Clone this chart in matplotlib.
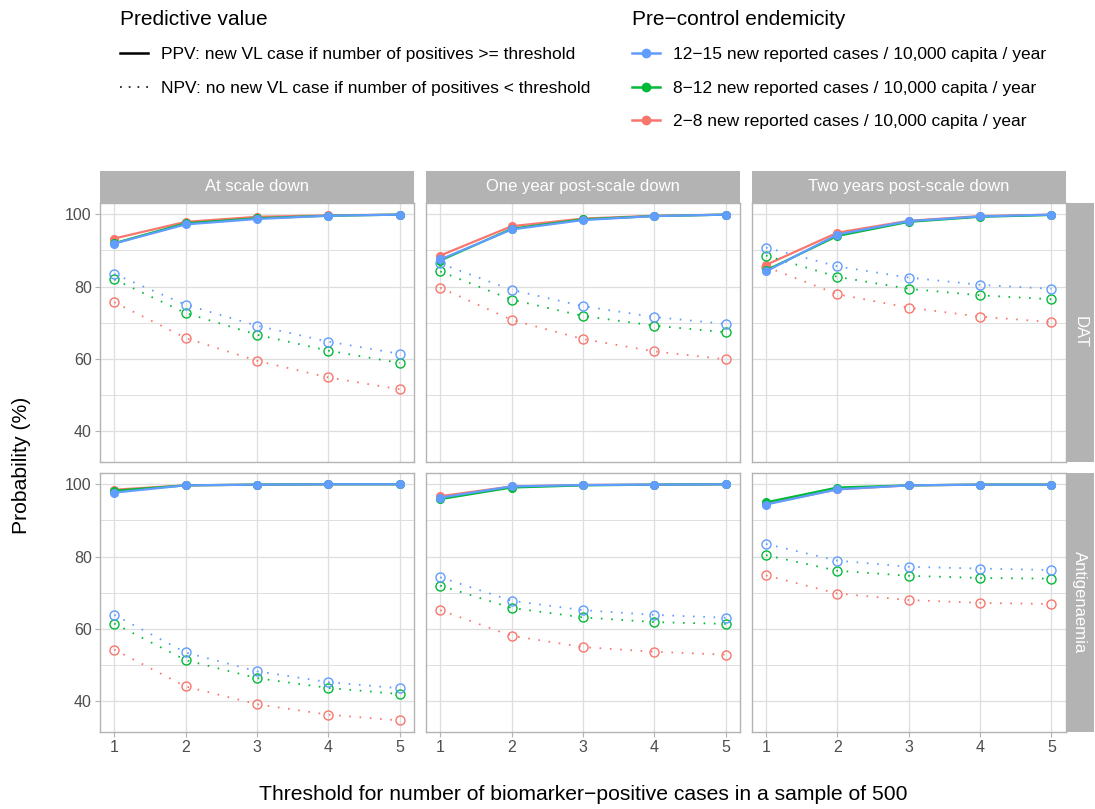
"""Predictive value of biomarker thresholds, faceted by timepoint and biomarker."""
import matplotlib

matplotlib.use("Agg")
import matplotlib.pyplot as plt
from matplotlib.lines import Line2D

plt.rcParams["font.family"] = ["Liberation Sans", "DejaVu Sans"]

# %% Data
thresholds = [1, 2, 3, 4, 5]
timepoints = ["At scale down", "One year post-scale down", "Two years post-scale down"]
biomarkers = ["DAT", "Antigenaemia"]
endemicity = [
    "2\u22128 new reported cases / 10,000 capita / year",
    "8\u221212 new reported cases / 10,000 capita / year",
    "12\u221215 new reported cases / 10,000 capita / year",
]

# one list per timepoint, values in %
ppv_dat_low = [[93.3, 97.9, 99.3, 99.7, 99.9], [88.6, 96.7, 98.8, 99.6, 99.9], [86.0, 94.9, 98.2, 99.5, 99.9]]
ppv_dat_mid = [[92.0, 97.5, 98.9, 99.6, 99.9], [87.2, 96.0, 98.6, 99.5, 99.9], [84.5, 94.0, 97.9, 99.3, 99.8]]
ppv_dat_high = [[91.9, 97.2, 98.7, 99.6, 99.9], [87.5, 95.8, 98.4, 99.5, 99.9], [84.2, 94.4, 98.1, 99.4, 99.9]]
npv_dat_low = [[75.7, 65.8, 59.5, 54.9, 51.6], [79.7, 70.8, 65.5, 62.1, 59.9], [85.5, 77.9, 74.2, 71.7, 70.2]]
npv_dat_mid = [[82.0, 72.7, 66.7, 62.3, 58.9], [84.2, 76.4, 71.9, 69.2, 67.4], [88.6, 82.7, 79.4, 77.6, 76.5]]
npv_dat_high = [[83.5, 75.0, 69.2, 64.8, 61.4], [86.4, 79.1, 74.6, 71.6, 69.7], [90.8, 85.6, 82.5, 80.5, 79.4]]

ppv_ag_low = [[98.5, 99.7, 99.9, 100.0, 100.0], [96.7, 99.4, 99.8, 99.9, 100.0], [94.6, 98.6, 99.7, 99.9, 99.9]]
ppv_ag_mid = [[98.2, 99.7, 99.9, 100.0, 100.0], [95.9, 99.1, 99.7, 99.9, 100.0], [95.0, 99.1, 99.7, 99.9, 99.9]]
ppv_ag_high = [[97.7, 99.7, 99.9, 100.0, 100.0], [96.3, 99.4, 99.8, 99.9, 100.0], [94.4, 98.6, 99.7, 99.9, 99.9]]
npv_ag_low = [[54.3, 44.1, 39.2, 36.3, 34.7], [65.2, 58.1, 55.0, 53.7, 52.9], [74.8, 69.8, 68.0, 67.2, 66.9]]
npv_ag_mid = [[61.5, 51.4, 46.4, 43.7, 42.0], [72.0, 65.8, 63.2, 61.9, 61.4], [80.4, 76.1, 74.7, 74.1, 73.9]]
npv_ag_high = [[63.9, 53.5, 48.3, 45.3, 43.6], [74.3, 67.8, 65.2, 63.9, 63.1], [83.5, 78.9, 77.2, 76.7, 76.3]]

ppv = {"DAT": [ppv_dat_low, ppv_dat_mid, ppv_dat_high],
       "Antigenaemia": [ppv_ag_low, ppv_ag_mid, ppv_ag_high]}
npv = {"DAT": [npv_dat_low, npv_dat_mid, npv_dat_high],
       "Antigenaemia": [npv_ag_low, npv_ag_mid, npv_ag_high]}

colours = ["#F8766D", "#00BA38", "#619CFF"]

# %% Layout (pixel positions -> figure fractions)
W, H = 1095, 809
fig = plt.figure(figsize=(W / 100, H / 100), dpi=100)

col_left = [100, 426, 751.7]
panel_w = 314
row_top = [202.7, 472.7]
panel_h = 259
strip_h = 32
strip_w = 28

grid_col = "#DEDEDE"
frame_col = "#B3B3B3"
text_col = "#4D4D4D"
dot = (0, (0.9, 4.8))


def strip(rect, label, rotation=0):
    sax = fig.add_axes(rect)
    sax.set_facecolor(frame_col)
    sax.set_xticks([])
    sax.set_yticks([])
    for s in sax.spines.values():
        s.set_visible(False)
    sax.text(0.5, 0.5, label, color="white", fontsize=12, ha="center", va="center",
             rotation=rotation, transform=sax.transAxes)


for r, bm in enumerate(biomarkers):
    for c, tp in enumerate(timepoints):
        ax = fig.add_axes([col_left[c] / W, 1 - (row_top[r] + panel_h) / H, panel_w / W, panel_h / H])
        ax.set_xlim(0.8, 5.2)
        ax.set_ylim(31.6, 103.2)
        ax.set_xticks(thresholds)
        ax.set_yticks([40, 60, 80, 100])
        ax.set_yticks([50, 70, 90], minor=True)
        ax.grid(True, which="major", color=grid_col, lw=0.9)
        ax.grid(True, which="minor", axis="y", color=grid_col, lw=0.7)
        ax.set_axisbelow(True)
        for s in ax.spines.values():
            s.set_color(frame_col)
            s.set_linewidth(1.0)
        ax.tick_params(which="major", color=frame_col, length=3.5, width=0.8,
                       labelcolor=text_col, labelsize=11.5, pad=2.5)
        ax.tick_params(which="minor", length=0)
        if c > 0:
            ax.tick_params(axis="y", labelleft=False, length=0)
        if r == 0:
            ax.tick_params(axis="x", labelbottom=False, length=0)

        for k in range(3):
            ax.plot(thresholds, ppv[bm][k][c], color=colours[k], lw=1.6,
                    marker="o", ms=5.5, zorder=3 + k)
            ax.plot(thresholds, npv[bm][k][c], color=colours[k], lw=1.3, ls=dot,
                    marker="o", ms=6.5, mfc="none", mew=1.0, zorder=3 + k)

        if r == 0:
            strip([col_left[c] / W, 1 - row_top[r] / H, panel_w / W, strip_h / H], tp)
        if c == 2:
            strip([(col_left[c] + panel_w) / W, 1 - (row_top[r] + panel_h) / H,
                   strip_w / W, panel_h / H], bm, rotation=-90)

fig.text(22 / W, 1 - 465 / H, "Probability (%)", rotation=90, ha="center", va="center", fontsize=15.2)
fig.text(583 / W, 1 - 795 / H, "Threshold for number of biomarker\u2212positive cases in a sample of 500",
         ha="center", va="center", fontsize=15.2)

# %% Legends
legend_kw = dict(loc="upper left", frameon=False, fontsize=12.5, title_fontsize=15,
                 handlelength=1.6, handletextpad=0.75, labelspacing=1.05,
                 borderpad=0, borderaxespad=0, alignment="left")

pv_handles = [Line2D([], [], color="black", lw=1.8),
              Line2D([], [], color="#333333", lw=1.4, ls=(0, (0.9, 3.6)))]
pv_labels = ["PPV: new VL case if number of positives >= threshold",
             "NPV: no new VL case if number of positives < threshold"]
fig.legend(pv_handles, pv_labels, title="Predictive value",
           bbox_to_anchor=(120 / W, 1 - 10 / H), **legend_kw)

end_handles = [Line2D([], [], color=colours[k], lw=1.8, marker="o", ms=6) for k in (2, 1, 0)]
end_labels = [endemicity[k] for k in (2, 1, 0)]
fig.legend(end_handles, end_labels, title="Pre\u2212control endemicity",
           bbox_to_anchor=(632 / W, 1 - 10 / H), **legend_kw)

fig.savefig("out.png", dpi=100)
